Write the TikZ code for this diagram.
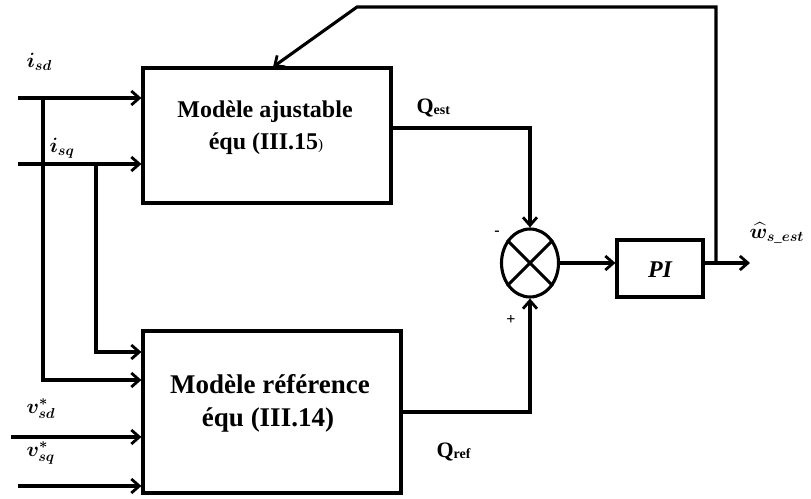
\documentclass[tikz,border=0pt]{standalone}
\usepackage{fontspec}
\setmainfont{Liberation Serif}
\usepackage{amsmath}
\usepackage{bm}
\usetikzlibrary{arrows.meta,shapes.geometric}
\begin{document}
\begin{tikzpicture}[x=1pt,y=-1pt,
  line width=3.1pt,
  arr/.style={-{Straight Barb[length=8pt,width=14pt,line width=2.8pt]}},
  blk/.style={draw, line width=3.1pt, inner sep=0pt},
  boxtxt/.style={anchor=base, inner sep=0pt},
  mlab/.style={anchor=base west, inner sep=0pt, font=\fontsize{21}{24}\selectfont},
  qlab/.style={anchor=base west, inner sep=0pt, font=\fontsize{22}{24}\selectfont\bfseries}
]
\useasboundingbox (0,0) rectangle (811,498);

% blocks
\node[blk, minimum width=248pt, minimum height=135pt] (ma) at (267,135.5) {};
\node[blk, minimum width=258pt, minimum height=162pt] (mr) at (272,412) {};
\node[blk, ellipse, minimum width=57pt, minimum height=68pt] (sum) at (530,263) {};
\node[blk, minimum width=86pt, minimum height=57pt] (pi) at (660,268.5) {};

% block texts
\node[boxtxt, font=\fontsize{24}{28}\selectfont\bfseries] (mat1) at (265,117) {Modèle ajustable};
\node[boxtxt, font=\fontsize{24}{28}\selectfont\bfseries] (mat2) at (266,149) {équ (III.15{\fontsize{15}{15}\selectfont\mdseries)}};
\node[boxtxt, font=\fontsize{27}{30}\selectfont\bfseries] (mrt1) at (270,393) {Modèle référence};
\node[boxtxt, font=\fontsize{27}{30}\selectfont\bfseries] (mrt2) at (268,426) {équ (III.14)};
\node[anchor=base, inner sep=0pt, font=\fontsize{24}{26}\selectfont\bfseries\itshape] (pit) at (660,277) {PI};

% cross in summing junction
\draw (sum.45) -- (sum.225);
\draw (sum.135) -- (sum.315);

% inputs
\coordinate (isd0) at (18,98);
\coordinate (isq0) at (18,164);
\coordinate (j1) at (43,98);
\coordinate (j2) at (96,164);
\coordinate (vsd0) at (11,437);
\coordinate (vsq0) at (18,486);
\draw[arr] (isd0) -- (isd0 -| ma.west);
\draw[arr] (isq0) -- (isq0 -| ma.west);
\draw[arr] (j1) |- ([yshift=32pt]mr.west);
\draw[arr] (j2) |- ([yshift=60pt]mr.west);
\draw[arr] (vsd0) -- (vsd0 -| mr.west);
\draw[arr] (vsq0) -- (vsq0 -| mr.west);

% to summing junction
\draw[arr] ([yshift=7.5pt]ma.east) -| (sum.north);
\draw[arr] (mr.east) -| (sum.south);
\draw[arr] (sum.east) -- (sum.east -| pi.west);

% output and feedback
\coordinate (out) at (750,263);
\coordinate (br) at (716,263);
\coordinate (fb1) at (716,7);
\coordinate (fb2) at (357,7);
\coordinate (fbend) at (273,67);
\draw[arr] (sum.east -| pi.east) -- (out);
\draw[arr] (br) -- (fb1) -- (fb2) -- (fbend);

% labels
\node[mlab] (lisd) at (25,67) {$\bm{i}_{\bm{sd}}$};
\node[mlab] (lisq) at (48,152) {$\bm{i}_{\bm{sq}}$};
\node[mlab] (lvsd) at (25,413) {$\bm{v}^{\bm{*}}_{\bm{sd}}$};
\node[mlab] (lvsq) at (25,456) {$\bm{v}^{\bm{*}}_{\bm{sq}}$};
\node[mlab] (lw) at (748,238) {$\bm{\widehat{w}}_{\bm{s\_est}}$};
\node[qlab] (lqest) at (415,113) {Q\raisebox{-1pt}{\fontsize{14}{14}\selectfont est}};
\node[qlab] (lqref) at (435,457) {Q\raisebox{-1pt}{\fontsize{14}{14}\selectfont ref}};
\node[anchor=center, inner sep=0pt, font=\fontsize{16}{16}\selectfont\bfseries] (lminus) at (497,233) {-};
\node[anchor=center, inner sep=0pt, font=\fontsize{16}{16}\selectfont\bfseries] (lplus) at (511,320) {+};
\end{tikzpicture}
\end{document}
